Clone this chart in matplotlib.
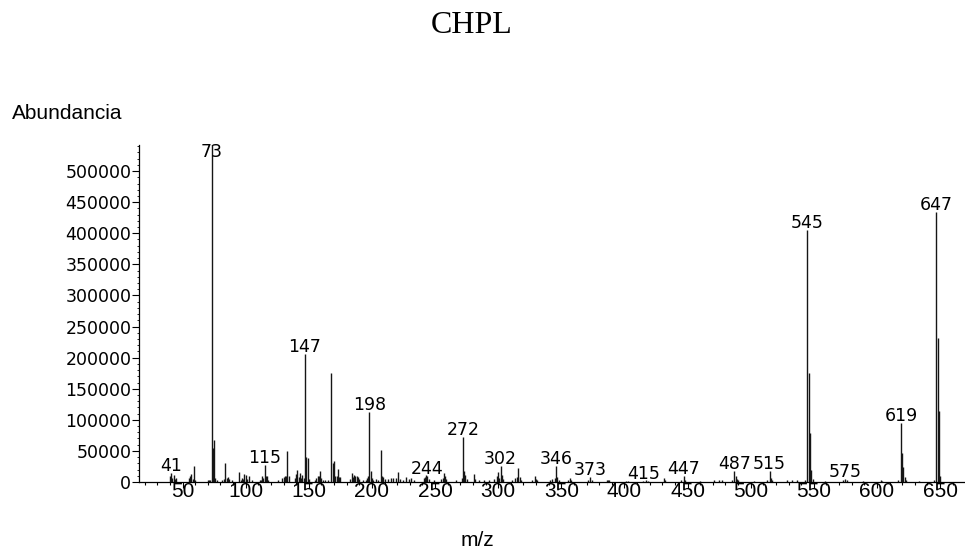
import matplotlib
matplotlib.use('agg')
import matplotlib.pyplot as plt
from matplotlib.ticker import MultipleLocator

# stick spectrum: m/z and abundance
MZ = [40, 41, 42, 43, 44, 45,
      55, 56, 57, 58, 59, 60,
      70, 71, 72, 73, 74, 75, 76, 77,
      81, 83, 84, 85, 86, 87, 89,
      95, 96, 97, 98, 99, 100, 101, 103,
      105, 111, 112, 113, 114, 115, 116, 117, 118,
      126, 129, 130, 131, 132, 133, 134,
      139, 140, 141, 142, 143, 144, 145, 146, 147, 148, 149, 150,
      155, 156, 157, 158, 159, 160, 161,
      163, 165, 168, 169, 170, 171, 172, 173, 174, 175,
      183, 184, 185, 186, 187, 188, 189, 190,
      193, 195, 196, 197, 198, 199, 200, 201, 203, 205, 207, 208, 209, 210,
      213, 215, 217, 219, 221, 222, 225, 227, 229, 231, 233,
      241, 242, 243, 244, 245, 249, 255, 256, 257, 258, 259,
      267, 271, 272, 273, 274, 275, 281, 282, 285, 289,
      293, 297, 299, 300, 301, 302, 303, 304,
      311, 313, 315, 316, 317, 318,
      327, 329, 330, 331, 341, 343, 345, 346, 347, 348,
      355, 357, 358, 371, 373, 374, 386, 387, 388,
      401, 403, 415, 417, 419, 431, 432, 445, 447, 448,
      460, 471, 475, 477, 485, 487, 488, 489, 490,
      503, 513, 515, 516, 517, 529, 533, 537, 543,
      545, 546, 547, 548, 549,
      559, 573, 575, 576, 589, 603, 604,
      617, 619, 620, 621, 622, 623,
      633, 645, 647, 648, 649, 650]
ABUND = [9000, 15000, 7000, 12000, 5000, 6000,
         7000, 10000, 13000, 5000, 26000, 3000,
         3000, 2500, 4000, 545000, 55000, 67000, 6000, 4000,
         3000, 5000, 31000, 7000, 8000, 5000, 4000,
         16500, 4000, 7000, 5000, 13000, 11000, 5000, 10000,
         3000, 4000, 3000, 10000, 6000, 27000, 10000, 10000, 3000,
         3000, 6000, 8000, 10000, 9000, 50000, 9000,
         6000, 13000, 19000, 8000, 14000, 6000, 11000, 6000, 206000, 40000, 38000, 5000,
         4000, 6000, 9000, 10000, 17000, 6000, 4000,
         3000, 3000, 176000, 30000, 34000, 9000, 9000, 21000, 8000, 8000,
         5000, 15000, 8000, 11000, 9000, 10000, 8000, 5000,
         4000, 4000, 6000, 9000, 113000, 18000, 6000, 3000, 5000, 4000, 51500, 10000, 8000, 5000,
         5000, 6000, 7000, 6000, 16500, 5000, 4000, 8000, 5000, 7000, 4000,
         6000, 8000, 12000, 10000, 5000, 4000, 5000, 6000, 15000, 10000, 5000,
         4000, 6000, 72000, 18000, 11000, 5000, 12500, 5000, 3000, 3000,
         3000, 5000, 9000, 16000, 7000, 26000, 11000, 5000,
         4000, 6000, 8000, 22000, 8000, 4000,
         3000, 10000, 5000, 4000, 3000, 5000, 6000, 26000, 8000, 4000,
         3000, 7000, 4000, 3000, 8000, 3000, 3000, 4000, 3000,
         2000, 2000, 2000, 2500, 2000, 7000, 3000, 3000, 9000, 4000,
         2000, 3000, 3500, 3000, 3000, 18000, 9000, 5000, 3000,
         2000, 3000, 18000, 7000, 3000, 3000, 3500, 3000, 3000,
         405000, 175000, 78000, 19000, 5000,
         2000, 2500, 4500, 3000, 2000, 3500, 2000,
         3000, 95500, 47000, 23600, 8500, 3000,
         2000, 3000, 434600, 231000, 114000, 10000]

PEAK_LABELS = [41, 73, 115, 147, 198, 244, 272, 302, 346, 373, 415,
               447, 487, 515, 545, 575, 619, 647]

YMAX = 542000

fig = plt.figure(figsize=(9.65, 5.58), dpi=100)
ax = fig.add_axes([0.144, 0.1362, 0.855, 0.604])

ax.vlines(MZ, 0, ABUND, colors='#151515', linewidth=1.0)

lookup = dict(zip(MZ, ABUND))
for m in PEAK_LABELS:
    y = min(lookup[m], 519000)
    ax.annotate(str(m), (m, y), xytext=(0, 1.5), textcoords='offset points',
                ha='center', va='baseline', fontsize=12.5, family='DejaVu Sans')

ax.set_xlim(15.5, 669)
ax.set_ylim(0, YMAX)
ax.xaxis.set_major_locator(MultipleLocator(50))
ax.xaxis.set_minor_locator(MultipleLocator(10))
ax.yaxis.set_major_locator(MultipleLocator(50000))
ax.yaxis.set_minor_locator(MultipleLocator(10000))
ax.set_xticks([t for t in range(50, 651, 50)])

for s in ['top', 'right']:
    ax.spines[s].set_visible(False)
for s in ['left', 'bottom']:
    ax.spines[s].set_linewidth(0.9)

ax.tick_params(axis='x', which='major', direction='out', length=4.3, width=0.8, pad=-4.3,
               labelsize=15)
ax.tick_params(axis='x', which='minor', direction='out', length=2.2, width=0.8)
ax.tick_params(axis='y', which='major', direction='out', length=5, width=0.8, pad=0.5,
               labelsize=12.5)
ax.tick_params(axis='y', which='minor', direction='out', length=1.5, width=0.6)
for lbl in ax.get_xticklabels():
    lbl.set_family('Liberation Sans')
for lbl in ax.get_yticklabels():
    lbl.set_family('DejaVu Sans')

fig.text(0.489, 0.955, 'CHPL', ha='center', va='center', fontsize=23,
         family='Liberation Serif')
fig.text(0.012, 0.797, 'Abundancia', ha='left', va='center', fontsize=15,
         family='Liberation Sans')
fig.text(0.495, 0.032, 'm/z', ha='center', va='center', fontsize=15,
         family='Liberation Sans')

fig.savefig('out.png', dpi=100)
